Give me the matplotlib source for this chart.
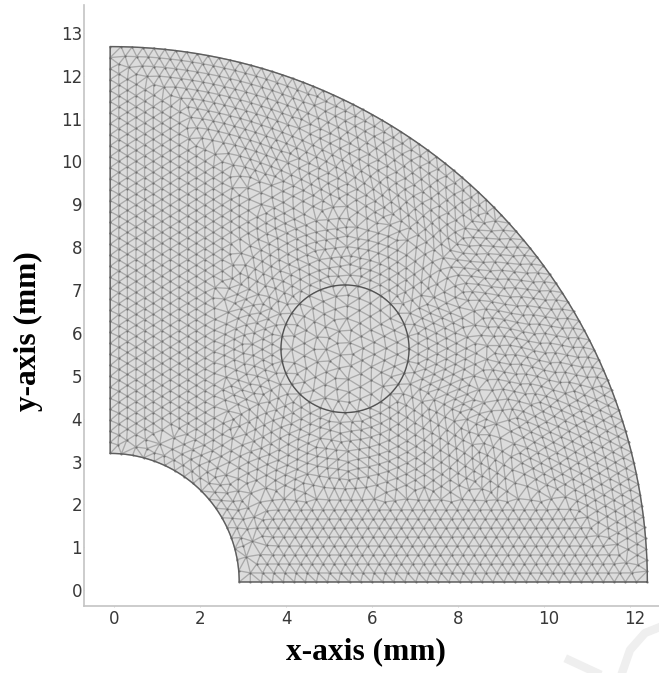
import numpy as np
import matplotlib.pyplot as plt
import matplotlib.tri as mtri
from matplotlib.lines import Line2D
from matplotlib.transforms import ScaledTranslation

# geometry (mm, in the axis' own coordinates)
origin = [-0.09, 0.19]
outer_radius = 12.49
hole_radius = 3.0
circle_center = [5.37, 5.63]
circle_radius = 1.49

x_ticks = [0, 2, 4, 6, 8, 10, 12]
y_ticks = list(range(14))
x_label = 'x-axis (mm)'
y_label = 'y-axis (mm)'

# NOTE: the mesh is not traced from the picture. Its nodes are too many to read,
# so build_mesh() constructs a similar one from these estimated spacings.
# Overall look and density match, single triangles do not.
edge_size = 0.255
layer_step = 0.2
circle_edge = 0.29


def arc_nodes(cx, cy, rad, a0, a1, size, shift=0.0):
    n = max(int(round(abs(a1 - a0) * rad / size)), 1)
    t = a0 + (a1 - a0) * (np.arange(n + 1) + shift) / n
    if shift:
        t = t[:-1]
    return np.column_stack([cx + rad * np.cos(t), cy + rad * np.sin(t)])


def line_nodes(p0, p1, size, shift=0.0):
    p0, p1 = np.array(p0), np.array(p1)
    n = max(int(round(np.hypot(*(p1 - p0)) / size)), 1)
    s = (np.arange(n + 1) + shift) / n
    if shift:
        s = s[:-1]
    return p0 + s[:, None] * (p1 - p0)


def inside(p):
    ox, oy = origin
    d = np.hypot(p[:, 0] - ox, p[:, 1] - oy)
    return (p[:, 0] > ox) & (p[:, 1] > oy) & (d < outer_radius) & (d > hole_radius)


def build_mesh():
    ox, oy = origin
    cx, cy = circle_center
    q = np.pi / 2
    fixed = [
        arc_nodes(ox, oy, outer_radius, 0, q, edge_size),
        arc_nodes(ox, oy, hole_radius, 0, q, edge_size),
        line_nodes([ox + hole_radius, oy], [ox + outer_radius, oy], edge_size),
        line_nodes([ox, oy + hole_radius], [ox, oy + outer_radius], edge_size),
        arc_nodes(cx, cy, circle_radius, 0, 2 * np.pi, circle_edge)[:-1],
    ]
    pts = np.unique(np.round(np.vstack(fixed), 6), axis=0)
    n_fixed = len(pts)

    store = np.zeros((15000, 2))
    store[:n_fixed] = pts
    count = n_fixed
    limit = 0.8 * edge_size

    # each front has its own start order, so the lattices reach as deep as in the picture
    fronts = []
    for k in range(1, 17):
        s = 0.5 * (k % 2)
        d = k * layer_step
        fronts.append((k * 0.5, line_nodes([ox + d, oy], [ox + d, oy + outer_radius], edge_size, s + 0.01)))
    for k in range(1, 10):
        s = 0.5 * (k % 2)
        d = k * 0.21
        fronts.append((k * 0.6, line_nodes([ox, oy + d], [ox + outer_radius, oy + d], edge_size * 1.02, s + 0.01)))
    for k in range(1, 13):
        s = 0.5 * (k % 2)
        d = k * 0.21
        fronts.append((k * 0.6, arc_nodes(ox, oy, outer_radius - d, 0, q, edge_size, s + 0.02)))
    for k in range(1, 30):
        s = 0.5 * (k % 2)
        t = k * 1.0 if k < 4 else 8 + k
        fronts.append((t, arc_nodes(ox, oy, hole_radius + k * 0.21, 0, q, edge_size * 0.95, s + 0.03)))
    for k in range(1, 26):
        s = 0.5 * (k % 2)
        fronts.append((k * 0.9, arc_nodes(cx, cy, circle_radius + k * 0.22, 0, 2 * np.pi,
                                          edge_size * 0.95, s + 0.04)))
    for k in range(1, 6):
        s = 0.5 * (k % 2)
        fronts.append((k * 0.5, arc_nodes(cx, cy, circle_radius - k * 0.26, 0, 2 * np.pi,
                                          circle_edge, s + 0.05)))
    fronts.sort(key=lambda item: item[0])

    for _, cand in fronts:
        cand = cand[inside(cand)]
        for p in cand:
            gap = np.hypot(store[:count, 0] - p[0], store[:count, 1] - p[1]).min()
            if gap > limit:
                store[count] = p
                count += 1

    nodes = store[:count].copy()

    # light smoothing of the free nodes so the seams look like a real mesh
    for _ in range(2):
        tri = mtri.Triangulation(nodes[:, 0], nodes[:, 1])
        edges = tri.edges
        length = np.hypot(*(nodes[edges[:, 0]] - nodes[edges[:, 1]]).T)
        edges = edges[length < 3 * edge_size]
        total = np.zeros_like(nodes)
        num = np.zeros(len(nodes))
        np.add.at(total, edges[:, 0], nodes[edges[:, 1]])
        np.add.at(total, edges[:, 1], nodes[edges[:, 0]])
        np.add.at(num, edges[:, 0], 1)
        np.add.at(num, edges[:, 1], 1)
        mean = total / np.maximum(num, 1)[:, None]
        nodes[n_fixed:] += 0.4 * (mean[n_fixed:] - nodes[n_fixed:])

    tri = mtri.Triangulation(nodes[:, 0], nodes[:, 1])
    centers = nodes[tri.triangles].mean(axis=1)
    tri.set_mask(~inside(centers))
    return tri


fig = plt.figure(figsize=(6.59, 6.73), dpi=100)
ax = fig.add_axes([83.5 / 659, 1 - 606 / 673, 1 - 83.5 / 659, 601 / 673])
ax.set_xlim(-0.71, 12.67)
ax.set_ylim(-0.37, 13.65)

ox, oy = origin
q = np.pi / 2
t_out = np.linspace(0, q, 300)
t_in = np.linspace(q, 0, 120)
bx = np.r_[ox + outer_radius * np.cos(t_out), ox + hole_radius * np.cos(t_in)]
by = np.r_[oy + outer_radius * np.sin(t_out), oy + hole_radius * np.sin(t_in)]

ax.fill(bx, by, color='#dcdcdc', lw=0, zorder=1)
mesh = build_mesh()
ax.triplot(mesh, color='#000000', alpha=0.23, lw=0.95, zorder=2)
ax.plot(mesh.x, mesh.y, ls='none', marker='o', ms=1.6, mew=0, color='#333333', alpha=0.5, zorder=2)
ax.plot(np.r_[bx, bx[0]], np.r_[by, by[0]], color='#5e5e5e', lw=1.0, zorder=3)
t = np.linspace(0, 2 * np.pi, 200)
ax.plot(circle_center[0] + circle_radius * np.cos(t),
        circle_center[1] + circle_radius * np.sin(t), color='#505050', lw=0.9, zorder=3)

for side in ['top', 'right']:
    ax.spines[side].set_visible(False)
for side in ['left', 'bottom']:
    ax.spines[side].set_color('#c4c4c4')
    ax.spines[side].set_linewidth(1.2)
ax.set_xticks(x_ticks)
ax.set_yticks(y_ticks)
ax.tick_params(axis='x', length=1, width=0.6, color='#c4c4c4', labelcolor='#383838', labelsize=12, pad=2)
ax.tick_params(axis='y', length=0.5, width=0.6, color='#c4c4c4', labelcolor='#383838', labelsize=12, pad=0.5)

# two digit labels sit a little to the right of their ticks in the picture
for lab in ax.get_xticklabels():
    if len(lab.get_text()) == 2:
        lab.set_transform(lab.get_transform() + ScaledTranslation(4.5 / 100, 0, fig.dpi_scale_trans))

serif = ['Liberation Serif', 'DejaVu Serif']
fig.text(366 / 659, 1 - 652 / 673, x_label, family=serif, weight='bold', fontsize=22.7,
         ha='center', va='center', color='black')
fig.text(28 / 659, 1 - 331 / 673, y_label, family=serif, weight='bold', fontsize=22.7,
         rotation=90, ha='center', va='center', color='black')

# faint watermark pieces in the corner
wm = '#efefef'
fig.add_artist(Line2D([622 / 659, 630 / 659, 645 / 659, 660 / 659],
                      [0, 1 - 650 / 673, 1 - 633 / 673, 1 - 627 / 673], color=wm, lw=6))
fig.add_artist(Line2D([569 / 659, 597 / 659], [1 - 660 / 673, 0], color=wm, lw=6))

fig.savefig('out.png', dpi=100)
